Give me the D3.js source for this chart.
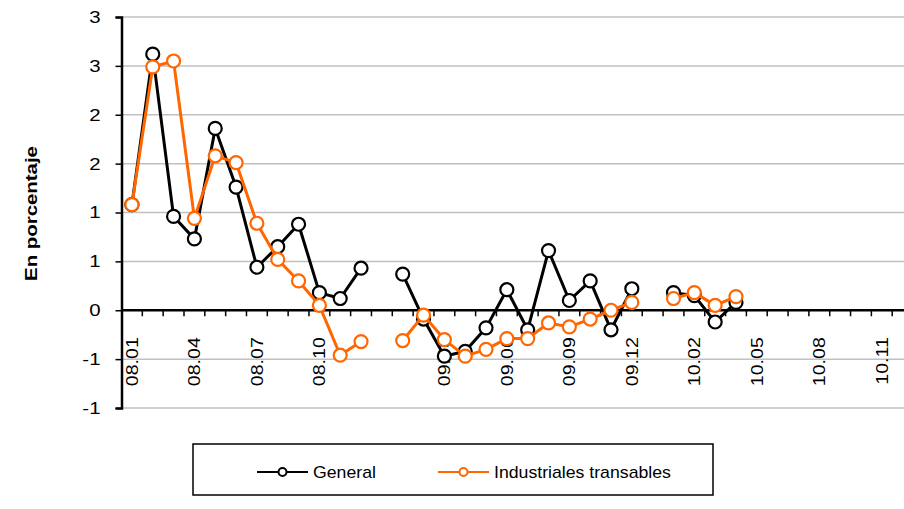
<!DOCTYPE html>
<html>
<head>
<meta charset="utf-8">
<script src="https://cdn.jsdelivr.net/npm/d3@7"></script>
<style>
  body { margin: 0; background: #fff; }
  svg { font-family: "Liberation Sans", Arial, sans-serif; }
</style>
</head>
<body>
<div id="grafico"></div>
<script>
// meses (con un hueco entre años, como en la planilla original)
const meses = [
  "08.01","08.02","08.03","08.04","08.05","08.06","08.07","08.08","08.09","08.10","08.11","08.12",
  "",
  "09.01","09.02","09.03","09.04","09.05","09.06","09.07","09.08","09.09","09.10","09.11","09.12",
  "",
  "10.01","10.02","10.03","10.04","10.05","10.06","10.07","10.08","10.09","10.10","10.11","10.12"
];

const general = [
  1.08, 2.62, 0.96, 0.73, 1.86, 1.26, 0.44, 0.65, 0.88, 0.18, 0.12, 0.43,
  null,
  0.37, -0.09, -0.47, -0.42, -0.18, 0.21, -0.20, 0.61, 0.10, 0.30, -0.20, 0.22,
  null,
  0.18, 0.15, -0.12, 0.08, null, null, null, null, null, null, null, null
];

const industriales = [
  1.08, 2.49, 2.55, 0.94, 1.58, 1.51, 0.89, 0.52, 0.30, 0.05, -0.46, -0.32,
  null,
  -0.31, -0.05, -0.30, -0.47, -0.40, -0.29, -0.29, -0.13, -0.17, -0.09, 0.00, 0.08,
  null,
  0.12, 0.18, 0.05, 0.14, null, null, null, null, null, null, null, null
];

const yTicks = [-1, -0.5, 0, 0.5, 1, 1.5, 2, 2.5, 3];
const yTickLabels = ["-1", "-1", "0", "1", "1", "2", "2", "3", "3"];

const series = [
  { nombre: "General", valores: general, color: "#000000" },
  { nombre: "Industriales transables", valores: industriales, color: "#ff6600" }
];

const width = 904, height = 509;
const margin = { top: 17, left: 121.5 };
const plotBottom = 408;

// el texto del original sale algo más ancho que Arial
function estirar(sel, factor) {
  sel.each(function() {
    const largo = this.getComputedTextLength();
    d3.select(this)
      .attr("textLength", largo * factor)
      .attr("lengthAdjust", "spacingAndGlyphs");
  });
}

const svg = d3.select("#grafico")
  .append("svg")
  .attr("width", width)
  .attr("height", height);

const x = d3.scaleBand()
  .domain(d3.range(meses.length))
  .range([margin.left, margin.left + meses.length * 20.83]);

const y = d3.scaleLinear()
  .domain([-1, 3])
  .range([plotBottom, margin.top]);

// grilla
svg.append("g")
  .selectAll("line")
  .data(yTicks.filter(d => d !== 0))
  .enter()
  .append("line")
  .attr("x1", margin.left)
  .attr("x2", width + 20)
  .attr("y1", d => y(d))
  .attr("y2", d => y(d))
  .attr("stroke", "#c0c0c0")
  .attr("stroke-width", 1.5);

// eje Y
const yAxis = svg.append("g")
  .attr("transform", `translate(${margin.left},0)`)
  .call(d3.axisLeft(y)
    .tickValues(yTicks)
    .tickFormat((d, i) => yTickLabels[i])
    .tickSize(6)
    .tickPadding(15));
yAxis.select(".domain").attr("stroke", "#000").attr("stroke-width", 2.5);
yAxis.selectAll(".tick line").attr("stroke", "#000").attr("stroke-width", 1.5);
yAxis.selectAll("text")
  .attr("font-size", "17px")
  .attr("fill", "#000")
  .attr("font-family", "Liberation Sans, Arial, sans-serif")
  .call(estirar, 1.2);

// línea del cero y marcas de categoría
svg.append("line")
  .attr("x1", margin.left)
  .attr("x2", width + 20)
  .attr("y1", y(0))
  .attr("y2", y(0))
  .attr("stroke", "#000")
  .attr("stroke-width", 2.5);

svg.append("g")
  .selectAll("line")
  .data(d3.range(1, meses.length + 1))
  .enter()
  .append("line")
  .attr("x1", i => margin.left + i * x.step())
  .attr("x2", i => margin.left + i * x.step())
  .attr("y1", y(0))
  .attr("y2", y(0) + 6)
  .attr("stroke", "#000")
  .attr("stroke-width", 1.5);

// etiquetas del eje X
const xAxis = svg.append("g")
  .attr("transform", `translate(0,${y(0)})`)
  .call(d3.axisBottom(x)
    .tickValues(d3.range(0, meses.length, 3))
    .tickFormat(i => meses[i])
    .tickSize(0));
xAxis.select(".domain").remove();
xAxis.selectAll("text")
  .attr("transform", "rotate(-90)")
  .attr("x", -27)
  .attr("y", 0)
  .attr("dy", "0.35em")
  .style("text-anchor", "end")
  .attr("font-size", "17px")
  .attr("fill", "#000")
  .attr("font-family", "Liberation Sans, Arial, sans-serif")
  .call(estirar, 1.15);

// título eje Y
svg.append("text")
  .attr("transform", `translate(37,${(margin.top + plotBottom) / 2 + 1}) rotate(-90)`)
  .attr("text-anchor", "middle")
  .attr("font-size", "17px")
  .attr("font-weight", "bold")
  .text("En porcentaje")
  .call(estirar, 1.2);

// series
const cx = i => x(i) + x.bandwidth() / 2;
const linea = d3.line()
  .defined(d => d != null)
  .x((d, i) => cx(i))
  .y(d => y(d));

series.forEach(s => {
  svg.append("path")
    .datum(s.valores)
    .attr("fill", "none")
    .attr("stroke", s.color)
    .attr("stroke-width", 3)
    .attr("stroke-linejoin", "round")
    .attr("d", linea);

  svg.append("g")
    .selectAll("circle")
    .data(s.valores.map((v, i) => ({ v, i })).filter(d => d.v != null))
    .enter()
    .append("circle")
    .attr("cx", d => cx(d.i))
    .attr("cy", d => y(d.v))
    .attr("r", 6.5)
    .attr("fill", "#fff")
    .attr("stroke", s.color)
    .attr("stroke-width", 2.2);
});

// leyenda
const leyenda = svg.append("g");
leyenda.append("rect")
  .attr("x", 193)
  .attr("y", 444)
  .attr("width", 520)
  .attr("height", 51)
  .attr("fill", "#fff")
  .attr("stroke", "#000")
  .attr("stroke-width", 1.5);

const posLeyenda = [257, 438];
series.forEach((s, k) => {
  const g = leyenda.append("g").attr("transform", `translate(${posLeyenda[k]},472)`);
  g.append("line")
    .attr("x1", 0).attr("x2", 51)
    .attr("stroke", s.color)
    .attr("stroke-width", 2);
  g.append("circle")
    .attr("cx", 25.5)
    .attr("r", 4)
    .attr("fill", "#fff")
    .attr("stroke", s.color)
    .attr("stroke-width", 2);
  g.append("text")
    .attr("x", 56)
    .attr("dy", "0.35em")
    .attr("font-size", "17px")
    .text(s.nombre)
    .call(estirar, 1.04);
});
</script>
</body>
</html>
